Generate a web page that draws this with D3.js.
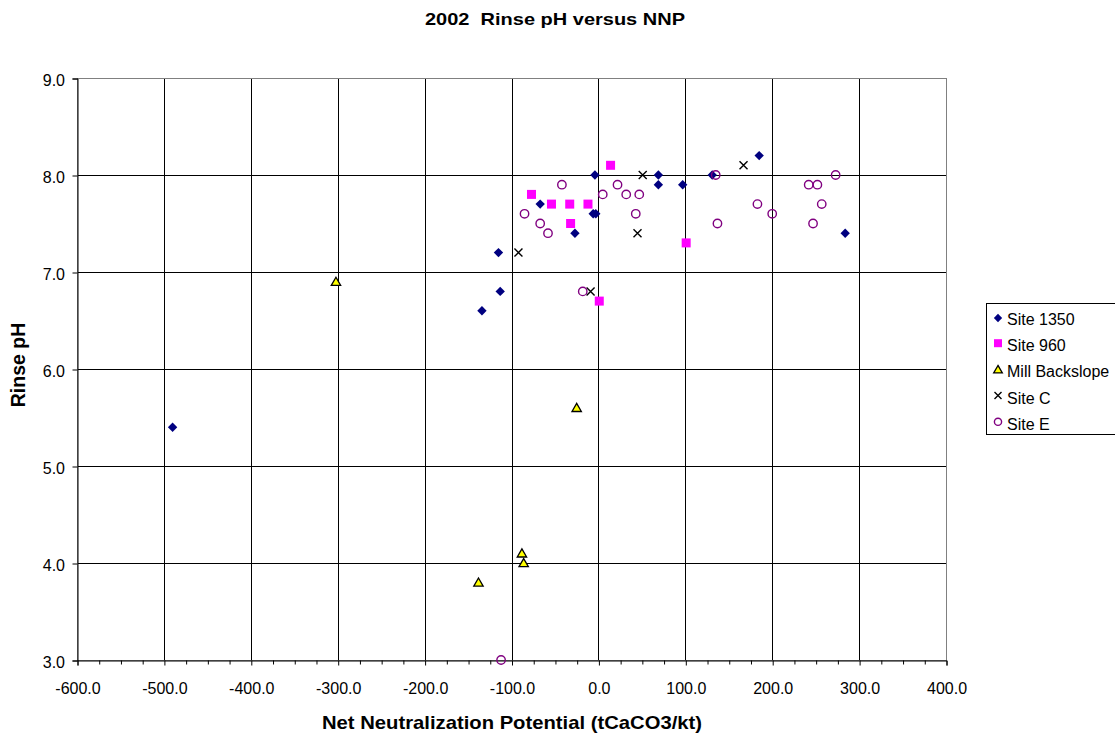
<!DOCTYPE html>
<html>
<head>
<meta charset="utf-8">
<script src="https://cdn.jsdelivr.net/npm/d3@7"></script>
<style>
  body { margin: 0; background: #fff; }
  svg { font-family: "Liberation Sans", Arial, sans-serif; }
  .title { white-space: pre; }
</style>
</head>
<body>
<svg id="drawing_region"></svg>
<script>
// values: [NNP, rinse pH]
const site1350 = [[-490,5.4],[-134,6.6],[-115,7.2],[-113,6.8],[-67,7.7],[-27,7.4],[-4,8.0],
                  [-6,7.6],[-3,7.6],[69,8.0],[69,7.9],[97,7.9],[131,8.0],[185,8.2],[284,7.4]];
const site960 = [[14,8.1],[-77,7.8],[-54,7.7],[-33,7.7],[-12,7.7],[-32,7.5],[101,7.3],[1,6.7]];
const millBackslope = [[-302,6.9],[-25,5.6],[-88,4.1],[-86,4.0],[-138,3.8]];
const siteC = [[51,8.0],[45,7.4],[-92,7.2],[-9,6.8],[167,8.1]];
const siteE = [[-42,7.9],[-85,7.6],[-67,7.5],[-58,7.4],[5,7.8],[22,7.9],[32,7.8],[47,7.8],[43,7.6],
               [-18,6.8],[135,8.0],[137,7.5],[273,8.0],[242,7.9],[252,7.9],[183,7.7],[257,7.7],
               [200,7.6],[247,7.5],[-112,3.0]];

const seriesNames = ["Site 1350", "Site 960", "Mill Backslope", "Site C", "Site E"];
const xTicks = [-600,-500,-400,-300,-200,-100,0,100,200,300,400];
const yTicks = [3,4,5,6,7,8,9];

const width = 1115, height = 736;
const plotLeft = 77, plotRight = 946, plotTop = 78, plotBottom = 660;

const svg = d3.select('#drawing_region')
    .attr('width', width)
    .attr('height', height);

const xscale = d3.scaleLinear().domain([-600, 400]).range([plotLeft, plotRight]);
const yscale = d3.scaleLinear().domain([3, 9]).range([plotBottom, plotTop]);

// gridlines
svg.append('g')
    .selectAll('line')
    .data(xTicks)
    .join('line')
    .attr('x1', d => Math.round(xscale(d)) + 0.5)
    .attr('x2', d => Math.round(xscale(d)) + 0.5)
    .attr('y1', plotTop).attr('y2', plotBottom)
    .attr('stroke', '#000').attr('stroke-width', 1);

svg.append('g')
    .selectAll('line')
    .data(yTicks)
    .join('line')
    .attr('y1', d => Math.round(yscale(d)) + 0.5)
    .attr('y2', d => Math.round(yscale(d)) + 0.5)
    .attr('x1', plotLeft).attr('x2', plotRight)
    .attr('stroke', '#000').attr('stroke-width', 1);

// plot border
svg.append('rect')
    .attr('x', plotLeft + 0.5).attr('y', plotTop + 0.5)
    .attr('width', plotRight - plotLeft).attr('height', plotBottom - plotTop)
    .attr('fill', 'none').attr('stroke', '#808080');

// x axis
const fmt = d => d3.format('.1f')(d).replace('\u2212', '-');
const xaxis = d3.axisBottom(xscale)
    .tickValues(xTicks)
    .tickSize(5)
    .tickPadding(17)
    .tickFormat(fmt);
const xg = svg.append('g')
    .attr('transform', `translate(0.5, ${plotBottom + 0.5})`)
    .call(xaxis)
    .attr('font-family', null);
xg.select('.domain').attr('stroke', '#000');
xg.selectAll('text').attr('font-size', 16).attr('fill', '#000');

const xminor = d3.axisBottom(xscale)
    .tickValues(d3.range(-600, 401, 25).filter(d => d % 100 !== 0))
    .tickSize(4)
    .tickFormat('');
svg.append('g')
    .attr('transform', `translate(0.5, ${plotBottom + 0.5})`)
    .call(xminor)
    .select('.domain').remove();

// y axis
const yaxis = d3.axisLeft(yscale)
    .tickValues(yTicks)
    .tickSize(5)
    .tickPadding(7.5)
    .tickFormat(fmt);
const yg = svg.append('g')
    .attr('transform', `translate(${plotLeft + 0.5}, 0.5)`)
    .call(yaxis)
    .attr('font-family', null);
yg.selectAll('text').attr('font-size', 16).attr('fill', '#000').attr('dy', '0.42em');

// markers
const diamond = d3.symbol().type(d3.symbolDiamond2).size(56);
const triangle = d3.symbol().type(d3.symbolTriangle).size(38);

svg.append('g').selectAll('path')
    .data(site1350)
    .join('path')
    .attr('d', diamond)
    .attr('transform', d => `translate(${xscale(d[0])}, ${yscale(d[1])})`)
    .attr('fill', '#000080');

svg.append('g').selectAll('rect')
    .data(site960)
    .join('rect')
    .attr('x', d => xscale(d[0]) - 4.5)
    .attr('y', d => yscale(d[1]) - 4.5)
    .attr('width', 9).attr('height', 9)
    .attr('fill', '#ff00ff');

svg.append('g').selectAll('path')
    .data(millBackslope)
    .join('path')
    .attr('d', triangle)
    .attr('transform', d => `translate(${xscale(d[0])}, ${yscale(d[1]) + 1})`)
    .attr('fill', '#ffff00')
    .attr('stroke', '#000')
    .attr('stroke-width', 1.3);

svg.append('g').selectAll('path')
    .data(siteC)
    .join('path')
    .attr('d', 'M-4,-4L4,4M-4,4L4,-4')
    .attr('transform', d => `translate(${xscale(d[0])}, ${yscale(d[1])})`)
    .attr('stroke', '#000')
    .attr('stroke-width', 1.4)
    .attr('fill', 'none');

svg.append('g').selectAll('circle')
    .data(siteE)
    .join('circle')
    .attr('cx', d => xscale(d[0]))
    .attr('cy', d => yscale(d[1]))
    .attr('r', 4.2)
    .attr('fill', 'none')
    .attr('stroke', '#800080')
    .attr('stroke-width', 1.4);

// titles
svg.append('text')
    .attr('class', 'title')
    .attr('x', 425).attr('y', 24.5)
    .attr('font-weight', 'bold')
    .attr('font-size', 17)
    .attr('textLength', 260)
    .attr('lengthAdjust', 'spacingAndGlyphs')
    .text('2002  Rinse pH versus NNP');

svg.append('text')
    .attr('x', 322).attr('y', 729)
    .attr('font-weight', 'bold')
    .attr('font-size', 18.5)
    .attr('textLength', 380)
    .attr('lengthAdjust', 'spacingAndGlyphs')
    .text('Net Neutralization Potential (tCaCO3/kt)');

svg.append('text')
    .attr('transform', `translate(25, 365) rotate(-90)`)
    .attr('text-anchor', 'middle')
    .attr('font-weight', 'bold')
    .attr('font-size', 19.5)
    .text('Rinse pH');

// legend
const legend = svg.append('g');
legend.append('rect')
    .attr('x', 986.5).attr('y', 303.5)
    .attr('width', 140).attr('height', 131)
    .attr('fill', '#fff').attr('stroke', '#000');

const legendY = i => 319 + i * 26.2;
const lx = 998;
legend.append('path').attr('d', d3.symbol().type(d3.symbolDiamond2).size(44))
    .attr('transform', `translate(${lx}, ${legendY(0) - 1})`).attr('fill', '#000080');
legend.append('rect').attr('x', lx - 4).attr('y', legendY(1) - 6).attr('width', 8).attr('height', 8)
    .attr('fill', '#ff00ff');
legend.append('path').attr('d', d3.symbol().type(d3.symbolTriangle).size(32))
    .attr('transform', `translate(${lx}, ${legendY(2) - 1})`)
    .attr('fill', '#ffff00').attr('stroke', '#000').attr('stroke-width', 1.3);
legend.append('path').attr('d', 'M-3.5,-3.5L3.5,3.5M-3.5,3.5L3.5,-3.5')
    .attr('transform', `translate(${lx}, ${legendY(3) - 2})`)
    .attr('stroke', '#000').attr('stroke-width', 1.4);
legend.append('circle').attr('cx', lx).attr('cy', legendY(4) - 2).attr('r', 3.6)
    .attr('fill', 'none').attr('stroke', '#800080').attr('stroke-width', 1.4);

legend.selectAll('text')
    .data(seriesNames)
    .join('text')
    .attr('x', 1007)
    .attr('y', (d, i) => legendY(i) + 6)
    .attr('font-size', 16)
    .text(d => d);
</script>
</body>
</html>
